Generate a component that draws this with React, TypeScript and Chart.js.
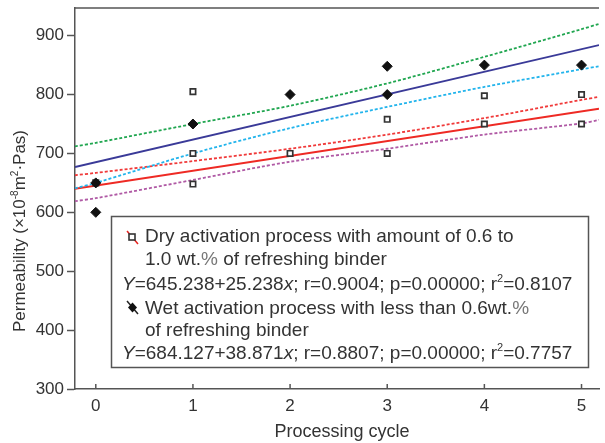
import React, { useEffect, useRef } from "react";
import { Chart, registerables } from "chart.js";

Chart.register(...registerables);

// ---- data ----
const xTicks = [0, 1, 2, 3, 4, 5];
const yTicks = [300, 400, 500, 600, 700, 800, 900];
const xMin = -0.214;
const xMax = 5.18;
const yMin = 300;
const yMax = 947;

const dryX = [0, 1, 1, 1, 2, 3, 3, 4, 4, 5, 5];
const dryY = [650, 805, 700, 648, 700, 758, 700, 798, 750, 800, 750];

const wetX = [0, 0, 1, 2, 3, 3, 4, 5];
const wetY = [650, 600, 750, 800, 848, 800, 850, 850];

// lines
const bandX = [-0.214, 0, 1, 2, 3, 4, 5, 5.18];
const wetUpper = [712, 718, 750, 781, 819, 864, 911, 920];
const wetLower = [641, 650, 700, 743, 779, 813, 843, 848];
const dryUpper = [663, 667, 687, 708, 732, 760, 791, 796];
const dryLower = [619, 624, 655, 686, 708, 732, 751, 757];
const fitX = [-0.214, 5.18];
const wetFit = [677, 884];
const dryFit = [640, 776];

const dryStats = { a: "645.238", b: "25.238", r: "0.9004", p: "0.00000", r2: "0.8107" };
const wetStats = { a: "684.127", b: "38.871", r: "0.8807", p: "0.00000", r2: "0.7757" };

const xTitle = "Processing cycle";

const FONT = '"Liberation Sans", Arial, Helvetica, sans-serif';
const TEXT = "#333";
const AXIS = "#555";

type Seg = { t: string; i?: boolean; sup?: boolean; c?: string };

function segFont(s: Seg, size: number) {
  const sz = s.sup ? Math.round(size * 0.6) : size;
  return `${s.i ? "italic " : ""}${sz}px ${FONT}`;
}
function richWidth(ctx: CanvasRenderingContext2D, segs: Seg[], size: number) {
  let w = 0;
  for (const s of segs) {
    ctx.font = segFont(s, size);
    w += ctx.measureText(s.t).width;
  }
  return w;
}
function drawRich(ctx: CanvasRenderingContext2D, x: number, y: number, segs: Seg[], size: number) {
  let cx = x;
  ctx.textBaseline = "alphabetic";
  ctx.textAlign = "left";
  for (const s of segs) {
    ctx.font = segFont(s, size);
    ctx.fillStyle = s.c || TEXT;
    ctx.fillText(s.t, cx, s.sup ? y - size * 0.42 : y);
    cx += ctx.measureText(s.t).width;
  }
}

function pts(xs: number[], ys: number[]) {
  return xs.map((x, i) => ({ x, y: ys[i] }));
}

const decorPlugin = {
  id: "decor",
  afterDraw(chart: any) {
    const { ctx, chartArea } = chart;
    const xs = chart.scales.x;
    ctx.save();
    // top border
    ctx.strokeStyle = AXIS;
    ctx.lineWidth = 1.5;
    ctx.beginPath();
    ctx.moveTo(chartArea.left, chartArea.top);
    ctx.lineTo(chartArea.right, chartArea.top);
    ctx.stroke();
    // inward x ticks
    for (const v of xTicks) {
      const px = xs.getPixelForValue(v);
      ctx.beginPath();
      ctx.moveTo(px, chartArea.bottom);
      ctx.lineTo(px, chartArea.bottom - 5);
      ctx.stroke();
    }
    // x title
    ctx.font = `18px ${FONT}`;
    ctx.fillStyle = TEXT;
    ctx.textAlign = "center";
    ctx.textBaseline = "middle";
    ctx.fillText(xTitle, 342, 432);
    // y title
    const ySegs: Seg[] = [
      { t: "Permeability (×10" },
      { t: "-8", sup: true },
      { t: "m" },
      { t: "2", sup: true },
      { t: "·Pas)" },
    ];
    ctx.save();
    ctx.translate(25, 231);
    ctx.rotate(-Math.PI / 2);
    const w = richWidth(ctx, ySegs, 17);
    drawRich(ctx, -w / 2, 0, ySegs, 17);
    ctx.restore();

    // legend box
    const bx = 111.5, by = 216.5, bw = 477, bh = 151;
    ctx.fillStyle = "#fff";
    ctx.fillRect(bx, by, bw, bh);
    ctx.strokeStyle = AXIS;
    ctx.lineWidth = 1.5;
    ctx.strokeRect(bx, by, bw, bh);

    const fs = 19;
    // symbol 1: red line + open square
    ctx.strokeStyle = "#e8231f";
    ctx.lineWidth = 1.5;
    ctx.beginPath();
    ctx.moveTo(127, 231);
    ctx.lineTo(138, 244);
    ctx.stroke();
    ctx.fillStyle = "#fff";
    ctx.strokeStyle = "#333";
    ctx.lineWidth = 1.6;
    ctx.fillRect(129, 234, 6, 6);
    ctx.strokeRect(129, 234, 6, 6);
    // symbol 2: black line + diamond
    ctx.strokeStyle = "#222";
    ctx.lineWidth = 1.5;
    ctx.beginPath();
    ctx.moveTo(127, 301);
    ctx.lineTo(138, 314);
    ctx.stroke();
    ctx.fillStyle = "#111";
    ctx.beginPath();
    ctx.moveTo(132.5, 302.5);
    ctx.lineTo(137, 307.5);
    ctx.lineTo(132.5, 312.5);
    ctx.lineTo(128, 307.5);
    ctx.closePath();
    ctx.fill();

    const lines: [number, number, Seg[]][] = [
      [145, 242, [{ t: "Dry activation process with amount of 0.6 to" }]],
      [145, 265, [{ t: "1.0 wt." }, { t: "%", c: "#777" }, { t: " of refreshing binder" }]],
      [122, 290, [
        { t: "Y", i: true }, { t: `=${dryStats.a}+${dryStats.b}` }, { t: "x", i: true },
        { t: `; r=${dryStats.r}; p=${dryStats.p}; r` }, { t: "2", sup: true }, { t: `=${dryStats.r2}` },
      ]],
      [145, 314, [{ t: "Wet activation process with less than 0.6wt." }, { t: "%", c: "#777" }]],
      [145, 336, [{ t: "of refreshing binder" }]],
      [122, 359, [
        { t: "Y", i: true }, { t: `=${wetStats.a}+${wetStats.b}` }, { t: "x", i: true },
        { t: `; r=${wetStats.r}; p=${wetStats.p}; r` }, { t: "2", sup: true }, { t: `=${wetStats.r2}` },
      ]],
    ];
    for (const [lx, ly, segs] of lines) drawRich(ctx, lx, ly, segs, fs);
    ctx.restore();
  },
};

export default function App() {
  const ref = useRef<HTMLCanvasElement | null>(null);
  useEffect(() => {
    if (!ref.current) return;
    const dash = [3, 2];
    const chart = new Chart(ref.current, {
      type: "scatter",
      data: {
        datasets: [
          {
            label: "Dry",
            data: pts(dryX, dryY),
            pointStyle: "rect",
            pointRadius: 3.8,
            pointBackgroundColor: "#fff",
            pointBorderColor: "#333",
            pointBorderWidth: 1.7,
            order: 0.5,
          } as any,
          {
            label: "Wet",
            data: pts(wetX, wetY),
            pointStyle: "rectRot",
            pointRadius: 5,
            pointBackgroundColor: "#111",
            pointBorderColor: "#111",
            pointBorderWidth: 1,
            order: 0,
          },
          { label: "wetUpper", data: pts(bandX, wetUpper), showLine: true, pointRadius: 0, borderColor: "#20a650", borderWidth: 1.8, borderDash: dash, tension: 0.3, order: 1 },
          { label: "wetFit", data: pts(fitX, wetFit), showLine: true, pointRadius: 0, borderColor: "#3a3a98", borderWidth: 1.9, order: 1 },
          { label: "wetLower", data: pts(bandX, wetLower), showLine: true, pointRadius: 0, borderColor: "#22b4ec", borderWidth: 1.8, borderDash: dash, tension: 0.3, order: 1 },
          { label: "dryUpper", data: pts(bandX, dryUpper), showLine: true, pointRadius: 0, borderColor: "#f03a3a", borderWidth: 1.8, borderDash: dash, tension: 0.3, order: 1 },
          { label: "dryFit", data: pts(fitX, dryFit), showLine: true, pointRadius: 0, borderColor: "#ee2a24", borderWidth: 1.9, order: 1 },
          { label: "dryLower", data: pts(bandX, dryLower), showLine: true, pointRadius: 0, borderColor: "#b05aa5", borderWidth: 1.8, borderDash: dash, tension: 0.3, order: 1 },
        ],
      },
      options: {
        responsive: false,
        animation: false,
        devicePixelRatio: 1,
        layout: { padding: { top: 8, right: 0, left: 0, bottom: 0 } },
        plugins: { legend: { display: false }, tooltip: { enabled: false }, title: { display: false } },
        scales: {
          x: {
            type: "linear",
            min: xMin,
            max: xMax,
            afterBuildTicks: (s: any) => { s.ticks = xTicks.map((v) => ({ value: v })); },
            afterFit: (s: any) => { s.height = 54; s.paddingLeft = 0; s.paddingRight = 0; },
            grid: { display: false, drawTicks: false },
            border: { display: true, color: AXIS, width: 1.5 },
            ticks: { color: TEXT, font: { family: FONT, size: 17 }, padding: 7, maxRotation: 0, autoSkip: false },
          },
          y: {
            type: "linear",
            min: yMin,
            max: yMax,
            afterBuildTicks: (s: any) => { s.ticks = yTicks.map((v) => ({ value: v })); },
            afterFit: (s: any) => { s.width = 75; s.paddingTop = 0; s.paddingBottom = 0; },
            grid: { drawOnChartArea: false, drawTicks: true, tickLength: 8, tickColor: AXIS, tickWidth: 1.5 },
            border: { display: true, color: AXIS, width: 1.5 },
            ticks: { color: TEXT, font: { family: FONT, size: 17 }, padding: 3 },
          },
        },
      },
      plugins: [decorPlugin],
    });
    return () => chart.destroy();
  }, []);
  return (
    <div style={{ position: "fixed", left: 0, top: 0, width: 605, height: 443, background: "#fff" }}>
      <canvas ref={ref} width={605} height={443} />
    </div>
  );
}
